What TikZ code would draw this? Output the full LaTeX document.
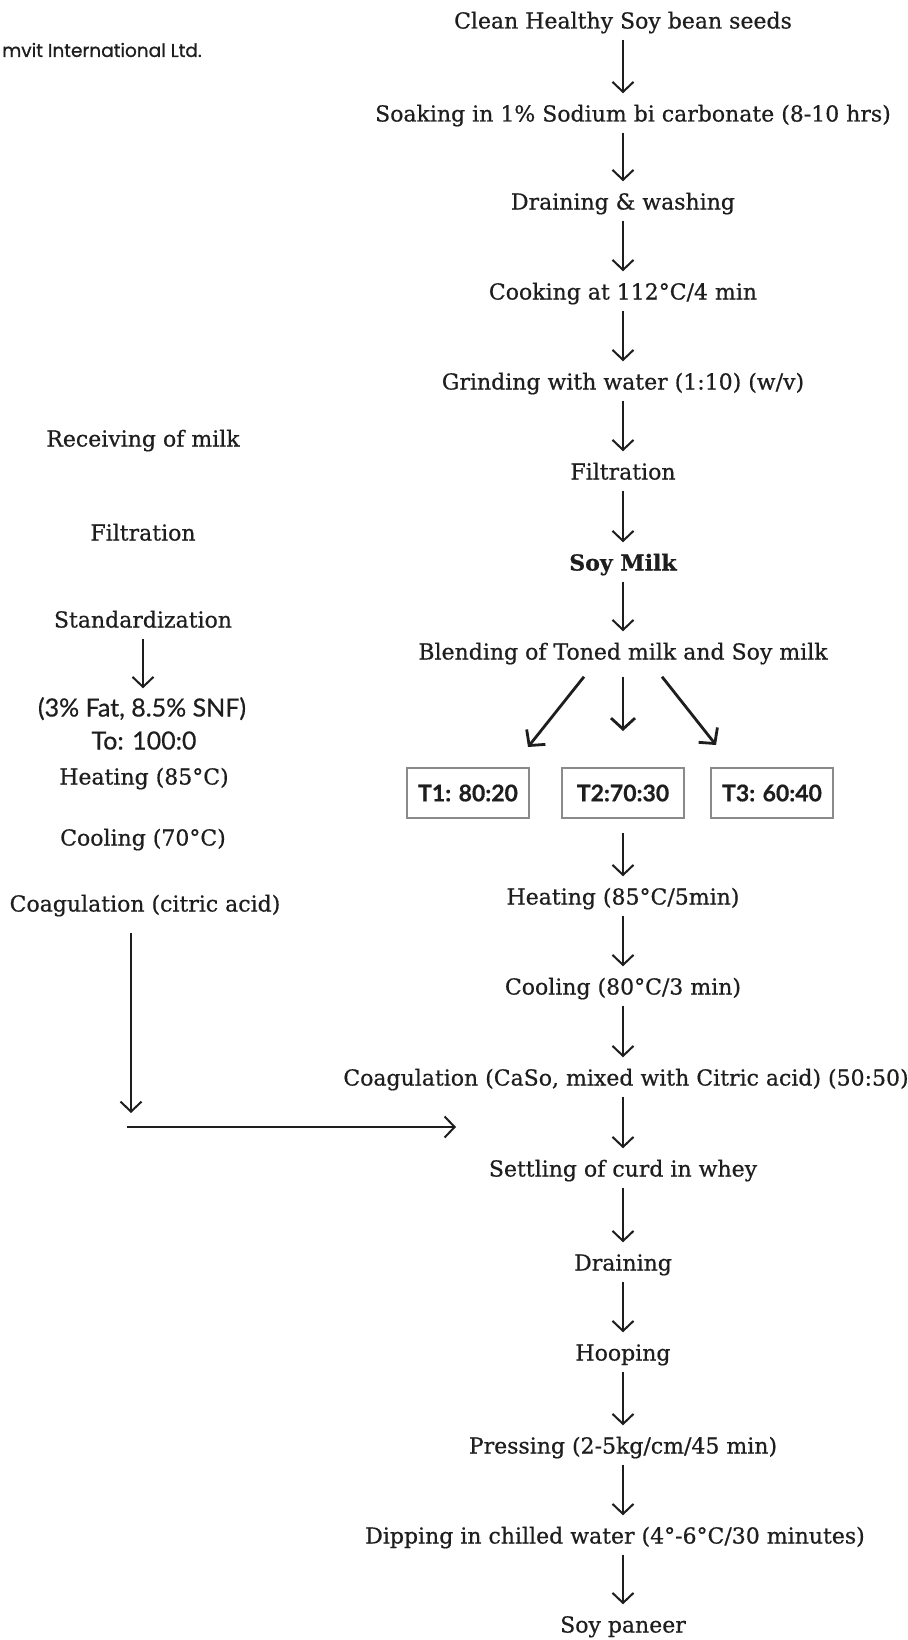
\documentclass[tikz,border=0pt]{standalone}
\usepackage{fontspec}
\setmainfont{DejaVu Serif}[FakeBold=0.6]
\newfontfamily\latofont{Lato}[FakeBold=0.5]
\newfontfamily\logofont{Poppins}[FakeBold=0.8]
\usetikzlibrary{arrows.meta}
\definecolor{ink}{HTML}{1E1E1E}
\definecolor{boxgray}{HTML}{8A8A8A}
\begin{document}
\begin{tikzpicture}[x=1pt,y=-1pt,
  lbl/.style={font=\fontsize{22}{24}\selectfont, text=ink, text height=19pt, text depth=2pt, inner xsep=2pt, inner ysep=9pt},
  slbl/.style={lbl, font=\latofont\fontsize{25}{27}\selectfont},
  arr/.style={line width=2pt, draw=ink, -{Straight Barb[length=10pt,width=21pt,line width=2pt]}},
  brarr/.style={line width=2.8pt, draw=ink, -{Straight Barb[length=11pt,width=24pt,line width=2.8pt]}},
  tbox/.style={draw=boxgray, line width=2pt, minimum width=122pt, minimum height=50pt, text=ink, font=\latofont\bfseries\fontsize{23}{25}\selectfont, inner sep=0pt}
]
\useasboundingbox (0,0) rectangle (907,1640);
\fill[white] (0,0) rectangle (907,1640);
\coordinate (axis) at (623,0);

% logo
\node[font=\logofont\fontsize{18.5}{20}\selectfont, text=ink, anchor=east, inner sep=0pt] (logo) at (202,50) {mvit International Ltd.};

% main column
\node[lbl] (m1) at (623,20) {Clean Healthy Soy bean seeds};
\node[lbl] (m2) at (633,113) {Soaking in 1\% Sodium bi carbonate (8-10 hrs)};
\node[lbl] (m3) at (623,201) {Draining \& washing};
\node[lbl] (m4) at (623,291) {Cooking at 112°C/4 min};
\node[lbl] (m5) at (623,381) {Grinding with water (1:10) (w/v)};
\node[lbl] (m6) at (623,471) {Filtration};
\node[lbl, font=\bfseries\fontsize{22}{24}\selectfont] (m7) at (623,562) {Soy Milk};
\node[lbl] (bl) at (623,651) {Blending of Toned milk and Soy milk};

\node[tbox] (t1) at (468,793) {T1: 80:20};
\node[tbox] (t2) at (623,793) {T2:70:30};
\node[tbox] (t3) at (772,793) {T3: 60:40};

\node[lbl] (h1) at (623,896) {Heating (85°C/5min)};
\node[lbl] (c1) at (623,986) {Cooling (80°C/3 min)};
\node[lbl] (g1) at (626,1077) {Coagulation (CaSo, mixed with Citric acid) (50:50)};
\node[lbl] (s1) at (623,1168) {Settling of curd in whey};
\node[lbl] (d1) at (623,1262) {Draining};
\node[lbl] (hp) at (623,1352) {Hooping};
\node[lbl] (pr) at (623,1445) {Pressing (2-5kg/cm/45 min)};
\node[lbl] (dp) at (615,1535) {Dipping in chilled water (4°-6°C/30 minutes)};
\node[lbl] (sp) at (623,1624) {Soy paneer};

\foreach \a/\b in {m1/m2,m2/m3,m3/m4,m4/m5,m5/m6,m6/m7,m7/bl,h1/c1,c1/g1,g1/s1,s1/d1,d1/hp,hp/pr,pr/dp,dp/sp}
  \draw[arr] (\a.south -| axis) -- (\b.north -| axis);

\draw[brarr] ([xshift=-39pt,yshift=-6pt]bl.south) -- ([xshift=-2pt,yshift=20pt]t1.north east);
\draw[brarr] ([yshift=-6pt]bl.south) -- ([yshift=36pt]t2.north);
\draw[brarr] ([xshift=39pt,yshift=-6pt]bl.south) -- ([xshift=6pt,yshift=22pt]t3.north west);
\draw[arr] ([yshift=-14pt]t2.south) -- (t2.south |- h1.north);

% left column
\node[lbl] (l1) at (143,438) {Receiving of milk};
\node[lbl] (l2) at (143,532) {Filtration};
\node[lbl] (l3) at (143,619) {Standardization};
\node[slbl] (l4) at (142,708) {(3\% Fat, 8.5\% SNF)};
\node[slbl] (l5) at (144,741) {To: 100:0};
\node[lbl] (l6) at (144,776) {Heating (85°C)};
\node[lbl] (l7) at (143,837) {Cooling (70°C)};
\node[lbl] (l8) at (145,903) {Coagulation (citric acid)};
\draw[arr] (l3.south) -- (l3.south |- l4.north);

\coordinate (lvtop) at (131,933);
\coordinate (lvbot) at (131,1113);
\coordinate (hs) at (127,1127);
\coordinate (he) at (456,1127);
\draw[arr] (lvtop) -- (lvbot);
\draw[arr] (hs) -- (he);
\end{tikzpicture}
\end{document}
